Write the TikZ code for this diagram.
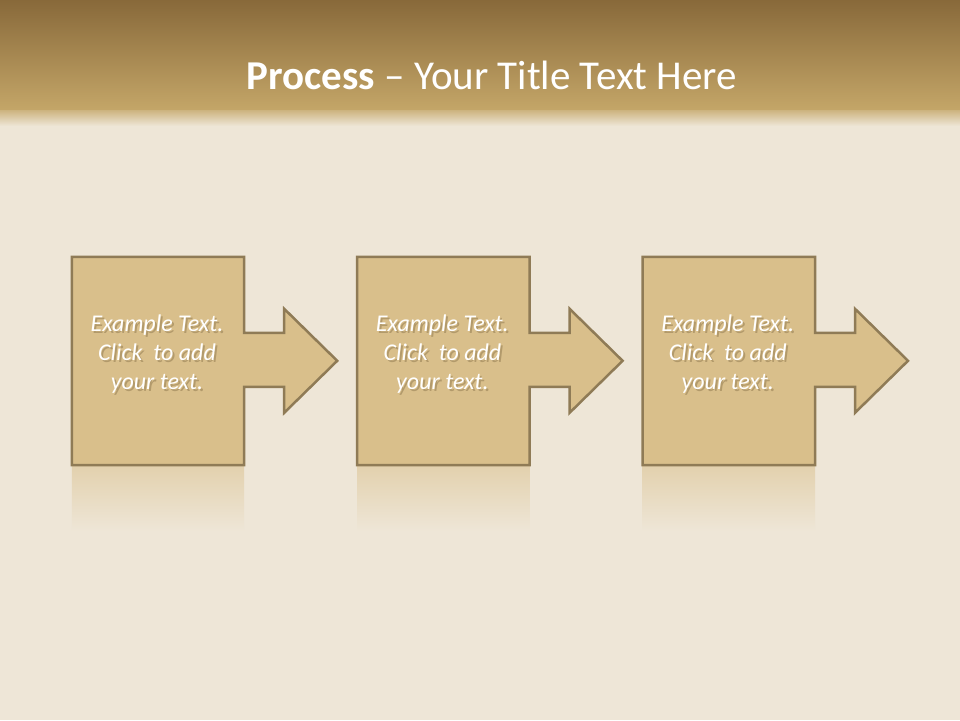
\documentclass[tikz,border=0pt]{standalone}
\usepackage{fontspec}
\setmainfont{Carlito}
\usetikzlibrary{positioning,backgrounds}
\definecolor{paper}{HTML}{EEE6D7}
\definecolor{bandtop}{HTML}{88693A}
\definecolor{bandbot}{HTML}{C4A668}
\definecolor{boxfill}{HTML}{D9BF8B}
\definecolor{boxline}{HTML}{8F7B56}
\definecolor{shadowcol}{HTML}{5A4522}
\tikzset{
  procbox/.style={rectangle,minimum width=172pt,minimum height=208pt,inner sep=0pt},
  procshape/.style={draw=boxline,fill=boxfill,line width=2.5pt,line join=miter},
  proctext/.style={text=white,align=center,font=\itshape\fontsize{24}{29}\selectfont},
  proctextshadow/.style={proctext,text=shadowcol,opacity=0.3},
  reflect/.style={top color=boxfill!55!paper,bottom color=paper,draw=none}
}

\begin{document}
\begin{tikzpicture}[x=1pt,y=-1pt,node distance=113pt]
        \useasboundingbox (0,0) rectangle (960,720);
        % page and title band
        \fill[paper] (0,0) rectangle (960,720);
        \shade[top color=bandtop,bottom color=bandbot] (0,0) rectangle (960,110);
        \shade[top color=bandbot!80!paper,bottom color=paper] (0,110) rectangle (960,126);
        \node[text=white,font=\fontsize{41}{49}\selectfont] (title) at (492,75)
          {\textbf{Process} -- Your Title Text Here};

        % the three steps
        \node[procbox] (box1) at (158,361) {};
        \node[procbox,right=of box1] (box2) {};
        \node[procbox,right=of box2] (box3) {};

        \foreach \i in {1,2,3} {
          \shade[reflect] (box\i.south west) rectangle ([yshift=-66pt]box\i.south east);
          \draw[procshape] (box\i.north west) -- (box\i.north east) -- ++(0,76)
            -- ++(40,0) -- ++(0,-24) -- ++(53,52) -- ++(-53,52) -- ++(0,-26)
            -- ++(-40,0) -- (box\i.south east) -- (box\i.south west) -- cycle;
          \node[proctextshadow] at ([xshift=1pt,yshift=4.5pt]box\i.center)
            {Example Text.\\Click~ to add\\your text.};
          \node[proctext] (text\i) at ([xshift=-1pt,yshift=7pt]box\i.center)
            {Example Text.\\Click~ to add\\your text.};
        }
      \end{tikzpicture}
\end{document}
